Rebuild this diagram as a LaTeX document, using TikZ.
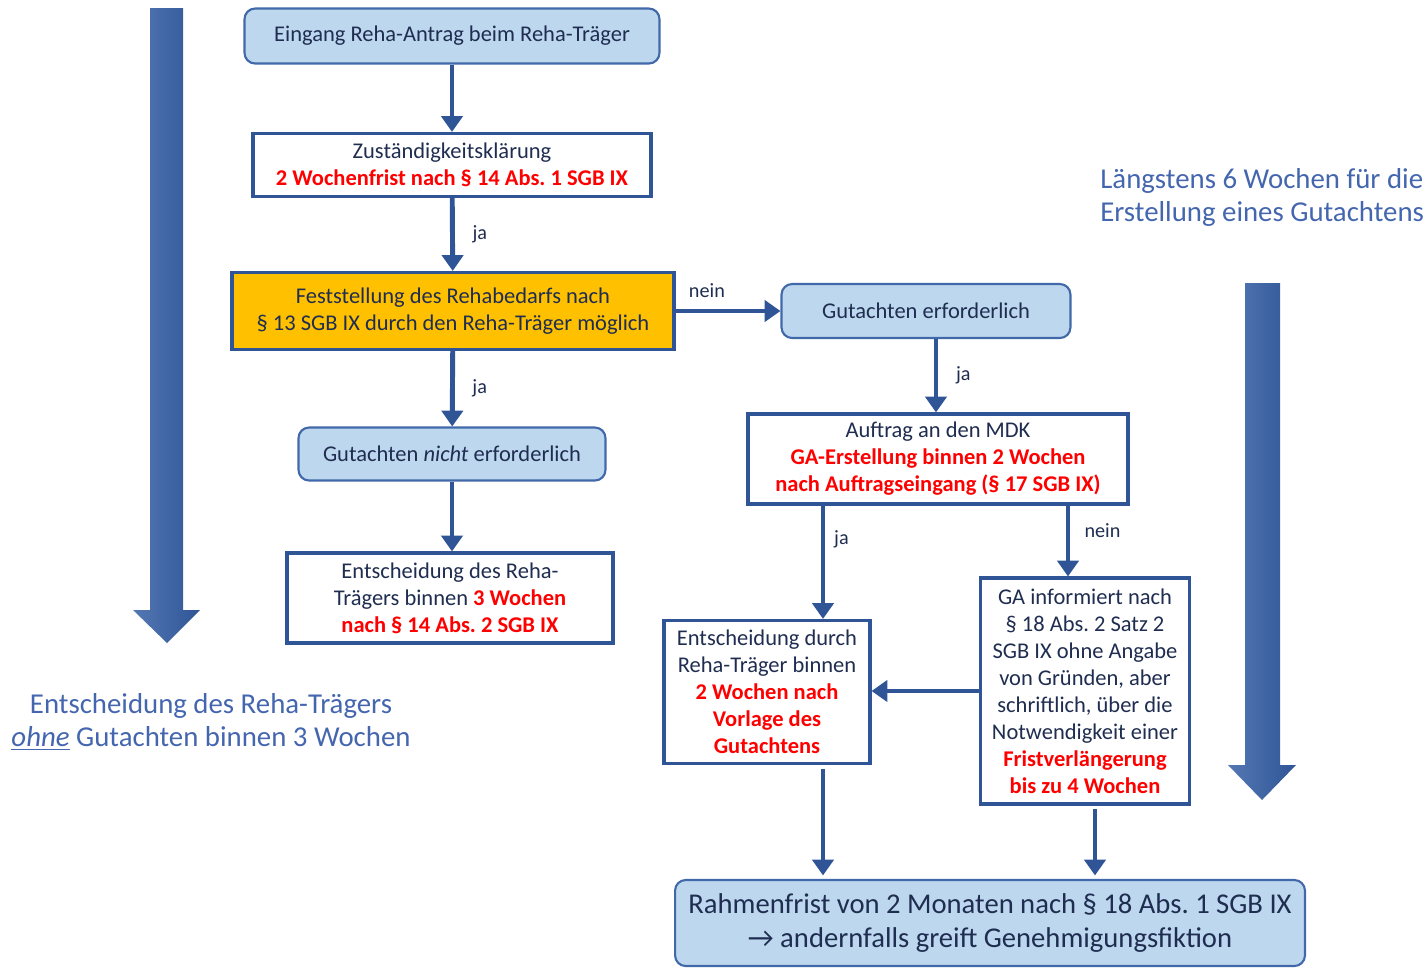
\documentclass[tikz,border=0pt]{standalone}
\usepackage{fontspec}
\setmainfont{Carlito}
\usepackage{tikz}
\usetikzlibrary{arrows.meta}
\frenchspacing

\definecolor{linienblau}{RGB}{47,85,151}
\definecolor{textblau}{RGB}{31,45,80}
\definecolor{hellblau}{RGB}{189,215,238}
\definecolor{randblau}{RGB}{65,105,170}
\definecolor{seitenblau}{RGB}{68,102,175}
\definecolor{gelb}{RGB}{255,192,0}
\definecolor{fristrot}{RGB}{255,0,0}

\newcommand{\frist}[1]{\textcolor{fristrot}{\textbf{#1}}}

\tikzset{
  grundbox/.style={draw=randblau, line width=1.2pt, fill=hellblau, rounded corners=6pt,
    inner sep=0pt, align=center, text=textblau, font=\fontsize{12.8}{15.4}\selectfont},
  fristbox/.style={draw=linienblau, line width=1.8pt, fill=white,
    inner sep=0pt, align=center, text=textblau, font=\fontsize{12.8}{15.4}\selectfont},
  pfeil/.style={draw=linienblau, line width=2.8pt, -{Triangle[length=9pt,width=12pt]}},
  marke/.style={text=textblau, font=\fontsize{11.5}{13}\selectfont, inner sep=2pt},
  seitentext/.style={text=seitenblau, font=\fontsize{16.4}{18.8}\selectfont, inner sep=0pt}
}

\begin{document}
\begin{tikzpicture}[x=0.02cm, y=-0.02cm]
  \useasboundingbox (0,0) rectangle (1428,968);

  % grosse Zeitpfeile
  \shade[left color=randblau!90, right color=linienblau]
    (150,8) -- (183,8) -- (183,610) -- (200,610) -- (167,643) -- (133,610) -- (150,610) -- cycle;
  \shade[left color=randblau!90, right color=linienblau]
    (1245,283) -- (1280,283) -- (1280,765) -- (1296,765) -- (1262,800) -- (1228,765) -- (1245,765) -- cycle;

  % Kaesten
  \node[grundbox, minimum width=8.3cm, minimum height=1.1cm] (eingang) at (452,36)
    {Eingang Reha-Antrag beim Reha-Träger};
  \node[fristbox, minimum width=7.96cm, minimum height=1.26cm] (zustaendig) at (452,165)
    {Zuständigkeitsklärung\\ \frist{2 Wochenfrist nach § 14 Abs. 1 SGB IX}};
  \node[fristbox, fill=gelb, minimum width=8.84cm, minimum height=1.54cm] (feststellung) at (453,311)
    {Feststellung des Rehabedarfs nach\\ § 13 SGB IX durch den Reha-Träger möglich};
  \node[grundbox, minimum width=5.78cm, minimum height=1.08cm] (gaerf) at (926,311)
    {Gutachten erforderlich};
  \node[grundbox, minimum width=6.14cm, minimum height=1.06cm] (ganicht) at (452,454)
    {Gutachten \textit{nicht} erforderlich};
  \node[fristbox, minimum width=6.52cm, minimum height=1.8cm] (entscheid) at (450,598)
    {Entscheidung des Reha-\\ Trägers binnen \frist{3 Wochen}\\ \frist{nach § 14 Abs. 2 SGB IX}};
  \node[fristbox, minimum width=7.6cm, minimum height=1.8cm] (auftrag) at (938,459)
    {Auftrag an den MDK\\ \frist{GA-Erstellung binnen 2 Wochen}\\ \frist{nach Auftragseingang (§ 17 SGB IX)}};
  \node[fristbox, minimum width=4.12cm, minimum height=2.86cm] (entscheidga) at (767,692)
    {Entscheidung durch\\ Reha-Träger binnen\\ \frist{2 Wochen nach}\\ \frist{Vorlage des}\\ \frist{Gutachtens}};
  \node[fristbox, minimum width=4.18cm, minimum height=4.52cm] (gainfo) at (1085,691)
    {GA informiert nach\\ § 18 Abs. 2 Satz 2\\ SGB IX ohne Angabe\\ von Gründen, aber\\
     schriftlich, über die\\ Notwendigkeit einer\\ \frist{Fristverlängerung}\\ \frist{bis zu 4 Wochen}};
  \node[grundbox, minimum width=12.6cm, minimum height=1.72cm,
        font=\fontsize{16.3}{18.8}\selectfont] (rahmen) at (990,923)
    {Rahmenfrist von 2 Monaten nach § 18 Abs. 1 SGB IX\\ → andernfalls greift Genehmigungsfiktion};

  % Seitentexte
  \node[seitentext, anchor=west, align=left] (laengstens) at (1100,197)
    {Längstens 6 Wochen für die\\ Erstellung eines Gutachtens};
  \node[seitentext, align=center] (ohnega) at (211,722)
    {Entscheidung des Reha-Trägers\\ \underline{\textit{ohne}} Gutachten binnen 3 Wochen};

  \coordinate (spalteja) at (823,0);
  \coordinate (spaltenein) at (1068,0);
  \coordinate (spalteende) at (1095,0);

  % Verbindungen
  \draw[pfeil] (eingang) -- (zustaendig);
  \draw[pfeil] (zustaendig) -- node[marke, right=8pt] {ja} (feststellung);
  \draw[pfeil] (feststellung) -- node[marke, above=4pt, xshift=-12pt] {nein} (gaerf);
  \draw[pfeil] (feststellung) -- node[marke, right=8pt] {ja} (ganicht);
  \draw[pfeil] (ganicht) -- (ganicht |- entscheid.north);
  \draw[pfeil] (gaerf.south -| 936,0) -- node[marke, right=8pt] {ja} (auftrag.north -| 936,0);
  \draw[pfeil] (auftrag.south -| spalteja) -- node[marke, right=3pt, pos=0.3] {ja} (entscheidga.north -| spalteja);
  \draw[pfeil] (auftrag.south -| spaltenein) -- node[marke, right=6pt, pos=0.35] {nein} (gainfo.north -| spaltenein);
  \draw[pfeil] (gainfo.west) -- (gainfo.west -| entscheidga.east);
  \draw[pfeil, shorten <=2pt, shorten >=2pt] (entscheidga.south -| spalteja) -- (rahmen.north -| spalteja);
  \draw[pfeil, shorten <=2pt, shorten >=2pt] (gainfo.south -| spalteende) -- (rahmen.north -| spalteende);
\end{tikzpicture}
\end{document}
